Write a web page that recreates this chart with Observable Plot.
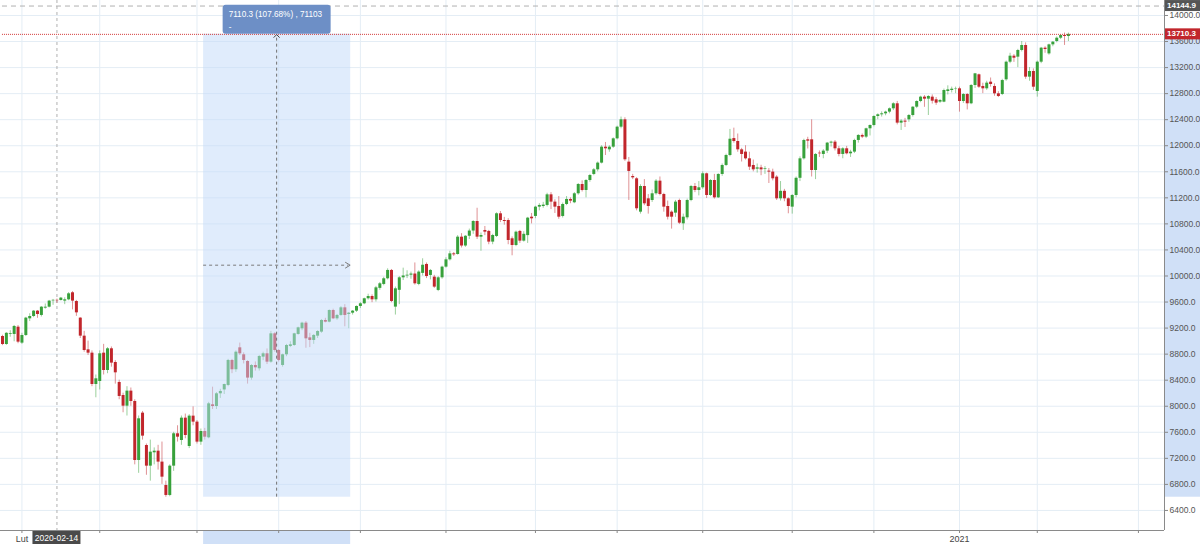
<!DOCTYPE html>
<html>
<head>
<meta charset="utf-8">
<script src="https://cdn.jsdelivr.net/npm/d3@7"></script>
<script src="https://cdn.jsdelivr.net/npm/@observablehq/plot@0.6"></script>
<style>
  body { margin: 0; background: #fff; }
  #chart svg { display: block; }
</style>
</head>
<body>
<div id="chart"></div>
<script>
// daily candles, [open, high, low, close]
const jan2020 = [
  [9071, 9090, 8930, 8948], [8948, 9130, 8935, 9120], [9105, 9160, 9060, 9117], [9102, 9240, 8990, 9225],
  [9214, 9240, 8960, 8984],
]
const feb2020 = [
  [8969, 9120, 8950, 9086], [9086, 9365, 9070, 9353], [9342, 9420, 9300, 9378], [9378, 9470, 9360, 9460],
  [9460, 9470, 9350, 9409], [9394, 9530, 9370, 9521], [9506, 9570, 9490, 9521], [9521, 9625, 9510, 9614],
  [9618, 9640, 9550, 9626], [9626, 9645, 9580, 9620], [9624, 9670, 9615, 9660], [9614, 9665, 9560, 9634],
  [9634, 9745, 9620, 9726], [9742, 9760, 9480, 9614], [9608, 9625, 9380, 9434], [9353, 9360, 9040, 9076],
  [9076, 9150, 8830, 8856], [8866, 9000, 8780, 8815], [8815, 8850, 8300, 8334], [8334, 8480, 8130, 8421],
]
const mar2020 = [
  [8380, 8850, 8250, 8805], [8815, 8950, 8480, 8549], [8549, 8900, 8500, 8882], [8882, 8910, 8600, 8662],
  [8672, 8700, 8340, 8513], [8365, 8400, 8100, 8150], [8165, 8200, 7900, 8001], [8001, 8300, 7850, 8232],
  [8232, 8280, 8000, 8073], [8073, 8100, 7100, 7167], [7167, 7850, 6970, 7807], [7894, 7920, 7480, 7541],
  [7397, 7420, 6940, 7080], [7080, 7480, 6850, 7295], [7285, 7360, 7100, 7310], [7310, 7400, 7020, 7142],
  [7142, 7450, 6800, 6911], [6783, 6850, 6603, 6630], [6630, 7100, 6610, 7080], [7080, 7600, 7000, 7577],
  [7577, 7700, 7450, 7525], [7474, 7850, 7400, 7817], [7817, 7880, 7500, 7551], [7382, 7870, 7350, 7848],
  [7848, 7990, 7700, 7756],
]
const apr2020 = [
  [7756, 7780, 7420, 7449], [7449, 7650, 7400, 7612], [7612, 7660, 7480, 7525], [7515, 8060, 7500, 8037],
  [8022, 8293, 7950, 7996], [7996, 8210, 7950, 8191], [8191, 8260, 8120, 8227], [8250, 8340, 8180, 8334],
  [8319, 8720, 8300, 8703], [8703, 8720, 8500, 8560], [8560, 8850, 8520, 8830], [8897, 8970, 8780, 8805],
  [8790, 8820, 8650, 8703], [8687, 8700, 8340, 8432], [8432, 8640, 8400, 8626], [8626, 8680, 8540, 8590],
  [8575, 8780, 8540, 8764], [8754, 8830, 8700, 8805], [8805, 8880, 8640, 8677], [8677, 9150, 8660, 9112],
  [9112, 9130, 8830, 8856],
]
const may2020 = [
  [8856, 8870, 8680, 8703], [8626, 8800, 8600, 8790], [8790, 8950, 8760, 8933], [8918, 8990, 8900, 8943],
  [8933, 9120, 8920, 9112], [9102, 9215, 9090, 9204], [9189, 9290, 9160, 9276], [9276, 9300, 8890, 9035],
  [9050, 9120, 8900, 9010], [9010, 9100, 8950, 9087], [9076, 9160, 9040, 9148], [9138, 9330, 9120, 9317],
  [9317, 9350, 9280, 9291], [9291, 9480, 9280, 9470], [9470, 9490, 9330, 9342], [9342, 9410, 9320, 9394],
  [9394, 9530, 9380, 9511], [9511, 9560, 9220, 9394], [9409, 9440, 9190, 9429], [9429, 9470, 9400, 9460],
  [9460, 9540, 9440, 9532],
]
const jun2020 = [
  [9532, 9590, 9500, 9573], [9573, 9660, 9560, 9650], [9650, 9720, 9630, 9685], [9685, 9710, 9590, 9634],
  [9634, 9840, 9600, 9818], [9810, 9900, 9780, 9880], [9870, 9980, 9850, 9957], [9957, 10110, 9940, 10085],
  [10085, 10100, 9590, 9609], [9522, 9830, 9400, 9803], [9780, 9990, 9560, 9972], [9972, 10120, 9930, 10000],
  [10000, 10080, 9960, 10012], [10012, 10060, 9950, 10030], [10030, 10200, 9860, 9880], [9870, 10080, 9850, 10060],
  [10040, 10264, 10000, 10165], [10177, 10200, 9960, 9992], [10008, 10100, 9940, 10085], [9982, 10010, 9810, 9829],
  [9778, 9990, 9760, 9972], [9972, 10150, 9950, 10136],
]
const jul2020 = [
  [10136, 10280, 10120, 10248], [10248, 10380, 10230, 10340], [10340, 10360, 10300, 10325], [10330, 10620, 10320, 10596],
  [10596, 10650, 10430, 10460], [10460, 10620, 10440, 10610], [10610, 10720, 10560, 10690], [10690, 10850, 10640, 10837],
  [10837, 11040, 10560, 10596], [10596, 10660, 10380, 10622], [10699, 10760, 10620, 10673], [10684, 10700, 10480, 10520],
  [10520, 10640, 10480, 10622], [10607, 10970, 10590, 10955], [10955, 10990, 10820, 10852], [10852, 10900, 10780, 10837],
  [10852, 10880, 10480, 10545], [10571, 10600, 10310, 10468], [10468, 10690, 10450, 10673], [10684, 10700, 10500, 10535],
  [10535, 10680, 10520, 10640], [10620, 10900, 10500, 10888], [10903, 10960, 10800, 10878],
]
const aug2020 = [
  [10914, 11070, 10880, 11057], [11057, 11110, 11000, 11083], [11067, 11130, 11040, 11088], [11083, 11270, 11060, 11246],
  [11246, 11280, 11020, 11134], [11134, 11170, 10960, 11057], [11067, 11220, 10870, 10903], [10914, 11120, 10890, 11098],
  [11098, 11220, 11080, 11175], [11175, 11200, 11110, 11149], [11124, 11280, 11110, 11262], [11262, 11420, 11240, 11405],
  [11405, 11460, 11290, 11313], [11313, 11480, 11200, 11466], [11466, 11560, 11440, 11543], [11559, 11650, 11540, 11630],
  [11630, 11750, 11600, 11733], [11733, 12000, 11720, 11978], [11978, 12050, 11850, 11953], [11937, 12000, 11900, 11978],
  [11978, 12120, 11960, 12106],
]
const sep2020 = [
  [12106, 12300, 12090, 12285], [12285, 12440, 12260, 12398], [12398, 12430, 11760, 11784], [11748, 11820, 11160, 11605],
  [11528, 11560, 11480, 11507], [11492, 11510, 11000, 11032], [10980, 11400, 10950, 11374], [11374, 11480, 11080, 11108],
  [11185, 11250, 10950, 11067], [11159, 11320, 11130, 11262], [11262, 11480, 11240, 11456], [11456, 11520, 11230, 11251],
  [11251, 11270, 10980, 11057], [11067, 11150, 10860, 10903], [10980, 11000, 10720, 10903], [10965, 11160, 10900, 11134],
  [11159, 11180, 10790, 10811], [10801, 10950, 10700, 10903], [10893, 11180, 10860, 11159], [11159, 11390, 11140, 11374],
  [11374, 11420, 11280, 11313], [11313, 11450, 11230, 11354],
]
const oct2020 = [
  [11354, 11600, 11330, 11569], [11569, 11580, 11190, 11236], [11236, 11480, 11220, 11466], [11466, 11560, 11180, 11200],
  [11200, 11570, 11190, 11559], [11559, 11720, 11530, 11697], [11697, 11870, 11680, 11850], [11850, 12250, 11830, 12100],
  [12110, 12270, 12040, 12065], [12065, 12180, 11900, 11937], [11937, 11960, 11750, 11866], [11902, 12000, 11780, 11799],
  [11799, 11900, 11620, 11671], [11697, 11780, 11600, 11630], [11640, 11720, 11580, 11660], [11660, 11700, 11540, 11630],
  [11640, 11680, 11560, 11650], [11610, 11650, 11420, 11595], [11595, 11640, 11460, 11492], [11518, 11540, 11160, 11185],
  [11185, 11450, 11150, 11300], [11300, 11330, 11140, 11185], [11185, 11200, 10955, 11067],
]
const nov2020 = [
  [11057, 11250, 10950, 11236], [11236, 11520, 11200, 11500], [11500, 11830, 11450, 11799], [11799, 12100, 11780, 12081],
  [12091, 12130, 11950, 12070], [12091, 12398, 11520, 11620], [11620, 11880, 11480, 11866], [11886, 11920, 11820, 11876],
  [11866, 11940, 11800, 11917], [11917, 12050, 11880, 12040], [12040, 12070, 11980, 12055], [12055, 12080, 11920, 11953],
  [11953, 11990, 11830, 11866], [11866, 11970, 11800, 11953], [11953, 11990, 11860, 11876], [11876, 11930, 11820, 11902],
  [11902, 12100, 11880, 12081], [12081, 12170, 12040, 12158], [12158, 12180, 12110, 12132], [12132, 12270, 12110, 12260],
  [12260, 12320, 12150, 12311],
]
const dec2020 = [
  [12311, 12460, 12290, 12449], [12449, 12490, 12400, 12475], [12475, 12520, 12440, 12490], [12490, 12530, 12460, 12516],
  [12516, 12580, 12490, 12567], [12567, 12660, 12540, 12644], [12644, 12680, 12320, 12347], [12347, 12400, 12234, 12378],
  [12378, 12420, 12280, 12362], [12398, 12480, 12360, 12464], [12464, 12600, 12440, 12592], [12592, 12690, 12570, 12679],
  [12679, 12760, 12660, 12746], [12746, 12770, 12590, 12715], [12715, 12770, 12464, 12756], [12746, 12780, 12640, 12684],
  [12705, 12740, 12620, 12654], [12669, 12710, 12650, 12695], [12669, 12870, 12660, 12848], [12833, 12920, 12780, 12858],
  [12848, 12900, 12810, 12868], [12868, 12900, 12800, 12874],
]
const jan2021 = [
  [12874, 12900, 12516, 12679], [12679, 12800, 12650, 12787], [12787, 12800, 12550, 12644], [12644, 12940, 12630, 12925],
  [12925, 13110, 12880, 13104], [13089, 13100, 12880, 12899], [12910, 12960, 12800, 12874], [12874, 12990, 12850, 12961],
  [12976, 13040, 12900, 12940], [12910, 12950, 12760, 12797], [12797, 12830, 12740, 12756], [12787, 13020, 12770, 13001],
  [13012, 13300, 12990, 13283], [13283, 13420, 13260, 13375], [13375, 13400, 13280, 13344], [13360, 13480, 13200, 13462],
  [13462, 13600, 13440, 13539], [13539, 13580, 13020, 13053], [13053, 13200, 12990, 13140], [13140, 13180, 12850, 12899],
]
const feb2021 = [
  [12833, 13300, 12746, 13283], [13283, 13510, 13260, 13498], [13498, 13520, 13420, 13478], [13410, 13560, 13390, 13549],
  [13549, 13600, 13520, 13590], [13600, 13670, 13580, 13651], [13651, 13700, 13630, 13692], [13692, 13730, 13540, 13677],
  [13677, 13730, 13600, 13710],
]

// month blocks; label null = month started before the visible range
const months = [
  {label: null, candles: jan2020},
  {label: "Lut", candles: feb2020},
  {label: "", candles: mar2020},
  {label: "", candles: apr2020},
  {label: "", candles: may2020},
  {label: "", candles: jun2020},
  {label: "", candles: jul2020},
  {label: "", candles: aug2020},
  {label: "", candles: sep2020},
  {label: "", candles: oct2020},
  {label: "", candles: nov2020},
  {label: "", candles: dec2020},
  {label: "2021", candles: jan2021},
  {label: "", candles: feb2021},
]

const futureTick = 292
const yTicks = [6400, 6800, 7200, 7600, 8000, 8400, 8800, 9200, 9600, 10000, 10400, 10800,
  11200, 11600, 12000, 12400, 12800, 13200, 13600, 14000]
const xDomain = [-0.51, 298.7]
const yDomain = [6092, 14230]

const lastPrice = 13710.3
const markLevel = 14144.9
const crosshair = {i: 14, label: "2020-02-14"}
const measure = {from: 51.7, to: 89.5, low: 6603, high: 13713.3,
  text: "7110.3 (107.68%) , 71103", sub: "-"}

const green = "#37a13b"
const red = "#c1262c"
const grid = "#e4edf5"

let rows = []
let ticks = []
months.forEach(m => {
  if (m.label !== null) ticks.push({i: rows.length, label: m.label})
  m.candles.forEach(([o, h, l, c]) => {
    rows.push({i: rows.length, o, h, l, c, dir: c >= o ? "up" : "down"})
  })
})
ticks.push({i: futureTick, label: ""})
const tickLabel = new Map(ticks.map(t => [t.i, t.label]))

const chart = Plot.plot({
  width: 1200,
  height: 544,
  marginTop: 0,
  marginLeft: 0,
  marginRight: 36,
  marginBottom: 14,
  style: {fontFamily: "Liberation Sans, Arial, sans-serif", fontSize: "8.5px", color: "#555", background: "#fff"},
  x: {type: "linear", domain: xDomain},
  y: {domain: yDomain},
  color: {domain: ["up", "down"], range: [green, red]},
  marks: [
    Plot.gridY(yTicks, {stroke: grid, strokeOpacity: 1}),
    Plot.gridX(ticks.map(t => t.i), {stroke: grid, strokeOpacity: 1}),
    Plot.ruleX([crosshair.i], {stroke: "#b0b0b0", strokeDasharray: "3,3"}),
    Plot.ruleY([markLevel], {stroke: "#b0b0b0", strokeDasharray: "5,4", x2: xDomain[1]}),
    Plot.ruleX(rows, {x: "i", y1: "l", y2: "h", stroke: "dir", strokeWidth: 1, strokeOpacity: 0.5}),
    Plot.ruleX(rows, {x: "i", y1: "o", y2: "c", stroke: "dir", strokeWidth: 3}),
    Plot.rect([measure], {x1: "from", x2: "to", y1: "low", y2: "high", fill: "#c1d9f9", fillOpacity: 0.5}),
    // measure band repeated on the axis strips
    Plot.rect([measure], {x1: "from", x2: "to", y1: yDomain[0], y2: 5877, fill: "#d0e0f7"}),
    Plot.rect([measure], {x1: xDomain[1], x2: 308, y1: "low", y2: "high", fill: "#d0e0f7"}),
    Plot.axisY(yTicks, {anchor: "right", tickSize: 3, tickPadding: 2, tickFormat: d3.format(".1f"), stroke: "#888"}),
    Plot.axisX(ticks.map(t => t.i), {anchor: "bottom", tickSize: 3, tickPadding: 2,
      tickFormat: i => tickLabel.get(i), stroke: "#888", fill: "#444", fontSize: 9}),
    Plot.ruleY([yDomain[0]], {stroke: "#8a8a8a"}),
    Plot.ruleX([xDomain[1]], {stroke: "#8a8a8a"}),
    Plot.ruleY([lastPrice], {stroke: "#d23a3a", strokeDasharray: "1,1", x2: xDomain[1]}),
  ],
})

d3.select('#chart').append(() => chart)

// overlays drawn with the plot's own scales
const sx = chart.scale("x")
const sy = chart.scale("y")
const ov = d3.select(chart).append("g")
  .attr("font-family", "Liberation Sans, Arial, sans-serif")
  .attr("text-anchor", "start")

const cx = sx.apply((measure.from + measure.to) / 2)
const mTop = sy.apply(measure.high)
const mBottom = sy.apply(measure.low)
const mMid = sy.apply((measure.low + measure.high) / 2)
const mLeft = sx.apply(measure.from)
const mRight = sx.apply(measure.to)

ov.append("line").attr("x1", cx).attr("x2", cx).attr("y1", mTop + 4).attr("y2", mBottom)
  .attr("stroke", "#707070").attr("stroke-dasharray", "3,3")
ov.append("line").attr("x1", mLeft).attr("x2", mRight - 2).attr("y1", mMid).attr("y2", mMid)
  .attr("stroke", "#7a7a7a").attr("stroke-dasharray", "3,3")
ov.append("path").attr("d", `M${mRight - 5},${mMid - 3}L${mRight},${mMid}L${mRight - 5},${mMid + 3}`)
  .attr("fill", "none").attr("stroke", "#7a7a7a")

ov.append("rect").attr("x", cx - 54).attr("y", mTop - 29).attr("width", 108).attr("height", 29)
  .attr("rx", 3).attr("fill", "#6d8fc6")
ov.append("text").attr("x", cx - 48).attr("y", mTop - 17).attr("fill", "#fff")
  .attr("font-size", 8.2).text(measure.text)
ov.append("text").attr("x", cx - 48).attr("y", mTop - 4).attr("fill", "#fff")
  .attr("font-size", 8.2).text(measure.sub)
ov.append("path").attr("d", `M${cx - 3},${mTop + 4}L${cx},${mTop + 1}L${cx + 3},${mTop + 4}`)
  .attr("fill", "none").attr("stroke", "#444")

function priceTag(v, fill) {
  const y = sy.apply(v)
  ov.append("rect").attr("x", 1165).attr("y", y - 5.5).attr("width", 35).attr("height", 11).attr("fill", fill)
  ov.append("text").attr("x", 1167).attr("y", y + 2.5).attr("fill", "#fff")
    .attr("font-size", 8).attr("font-weight", "bold").text(d3.format(".1f")(v))
}
priceTag(markLevel, "#555555")
priceTag(lastPrice, "#c1262c")

const dx = sx.apply(crosshair.i)
ov.append("rect").attr("x", dx - 24).attr("y", 531).attr("width", 48).attr("height", 13).attr("fill", "#4a4a4a")
ov.append("text").attr("x", dx).attr("y", 541).attr("text-anchor", "middle").attr("fill", "#fff")
  .attr("font-size", 8.5).text(crosshair.label)
</script>
</body>
</html>
